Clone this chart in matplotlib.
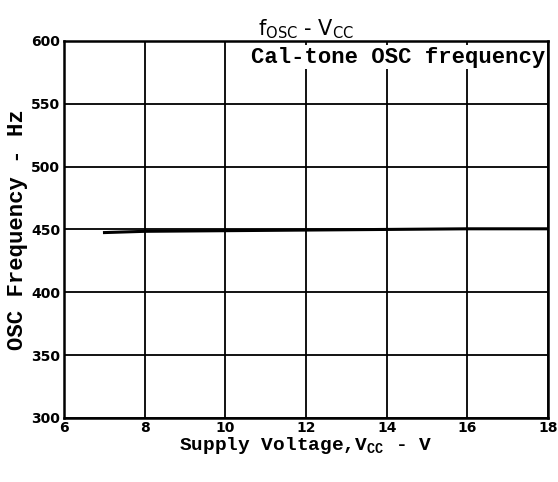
import matplotlib
matplotlib.use("Agg")
import matplotlib.pyplot as plt

vcc = [7, 8, 10, 12, 14, 16, 18]
fosc = [447.5, 448.5, 449.0, 449.5, 450.0, 450.5, 450.5]
xticks = [6, 8, 10, 12, 14, 16, 18]
yticks = [300, 350, 400, 450, 500, 550, 600]

fig = plt.figure(figsize=(5.58, 4.82), dpi=100)
ax = fig.add_axes([0.115, 0.133, 0.867, 0.782])
ax.set_xlim(6, 18)
ax.set_ylim(300, 600)
ax.set_xticks(xticks)
ax.set_yticks(yticks)
ax.set_xticklabels([str(t) for t in xticks], fontsize=10, fontweight='bold', family='DejaVu Sans')
ax.set_yticklabels([str(t) for t in yticks], fontsize=10, fontweight='bold', family='DejaVu Sans')
ax.tick_params(axis='x', length=0, pad=2)
ax.tick_params(axis='y', length=0, pad=3)
ax.grid(True, color='black', linewidth=1.3)
for s in ax.spines.values():
    s.set_linewidth(1.8)

ax.plot(vcc, fosc, color='black', linewidth=2.2)

mono = 'Liberation Mono'
ax.set_xlabel('Supply Voltage,V$_{\\mathregular{CC}}$ - V', fontsize=14, fontweight='bold', family=mono, labelpad=0)
ax.set_ylabel('OSC Frequency - Hz', fontsize=16, fontweight='bold', family=mono, labelpad=2)
ax.set_title('f$_{\\mathregular{OSC}}$ - V$_{\\mathregular{CC}}$', fontsize=15, family='DejaVu Sans', pad=2)
ax.text(0.995, 0.985, 'Cal-tone OSC frequency', transform=ax.transAxes, ha='right', va='top',
        fontsize=16, fontweight='bold', family=mono,
        bbox=dict(facecolor='white', edgecolor='none', pad=1), zorder=5)

fig.savefig('out.png', dpi=100)
